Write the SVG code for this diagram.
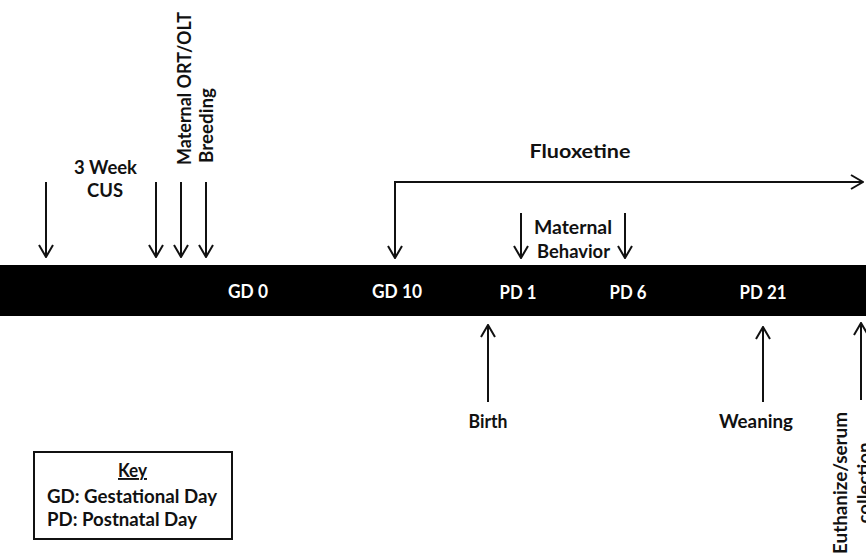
<svg xmlns="http://www.w3.org/2000/svg" width="866" height="556" viewBox="0 0 866 556">
<defs>
<style>
text{font-family:Lato,"Open Sans","Liberation Sans",sans-serif;font-weight:bold;font-size:19px;fill:#111}
.w{fill:#fff}
.m{text-anchor:middle}
.c{fill:none;stroke:#111;stroke-width:2}
</style>
<marker id="ah" markerUnits="userSpaceOnUse" viewBox="0 0 14 16" markerWidth="14" markerHeight="16" refX="13" refY="8" orient="auto-start-reverse">
<path d="M1,1 L13,8 L1,15" fill="none" stroke="#111" stroke-width="2"/>
</marker>
</defs>
<rect width="866" height="556" fill="#fff"/>
<g id="timeline">
<rect x="0" y="265" width="866" height="51" fill="#000"/>
<text class="w m" x="248" y="298" textLength="40" lengthAdjust="spacingAndGlyphs">GD 0</text>
<text class="w m" x="397" y="298" textLength="50" lengthAdjust="spacingAndGlyphs">GD 10</text>
<text class="w m" x="518" y="299" textLength="37" lengthAdjust="spacingAndGlyphs">PD 1</text>
<text class="w m" x="628" y="299" textLength="37" lengthAdjust="spacingAndGlyphs">PD 6</text>
<text class="w m" x="763" y="299" textLength="47" lengthAdjust="spacingAndGlyphs">PD 21</text>
</g>
<g id="connectors">
<path class="c" d="M46,182 V257" marker-end="url(#ah)"/>
<path class="c" d="M156,182 V257" marker-end="url(#ah)"/>
<path class="c" d="M181,182 V257" marker-end="url(#ah)"/>
<path class="c" d="M206,182 V257" marker-end="url(#ah)"/>
<path class="c" d="M395,258 V182 H863" marker-start="url(#ah)" marker-end="url(#ah)"/>
<path class="c" d="M521,213 V258" marker-end="url(#ah)"/>
<path class="c" d="M625,213 V258" marker-end="url(#ah)"/>
<path class="c" d="M488,402 V325" marker-end="url(#ah)"/>
<path class="c" d="M763,402 V327" marker-end="url(#ah)"/>
<path class="c" d="M861,400 V323" marker-end="url(#ah)"/>
</g>
<g id="cus">
<text class="m" x="105.5" y="174" textLength="63" lengthAdjust="spacingAndGlyphs">3 Week</text>
<text class="m" x="105" y="197" textLength="36" lengthAdjust="spacingAndGlyphs">CUS</text>
</g>
<g id="ort">
<text transform="translate(190.5,165) rotate(-90)" textLength="153" lengthAdjust="spacingAndGlyphs">Maternal ORT/OLT</text>
</g>
<g id="breeding">
<text transform="translate(213,163) rotate(-90)" textLength="75" lengthAdjust="spacingAndGlyphs">Breeding</text>
</g>
<g id="fluoxetine">
<text class="m" x="580" y="158" font-size="22" textLength="101" lengthAdjust="spacingAndGlyphs">Fluoxetine</text>
</g>
<g id="maternal-behavior">
<text class="m" x="573" y="234" textLength="78" lengthAdjust="spacingAndGlyphs">Maternal</text>
<text class="m" x="573.5" y="258" textLength="73" lengthAdjust="spacingAndGlyphs">Behavior</text>
</g>
<g id="birth">
<text class="m" x="488" y="428" textLength="39" lengthAdjust="spacingAndGlyphs">Birth</text>
</g>
<g id="weaning">
<text class="m" x="756" y="428" textLength="74" lengthAdjust="spacingAndGlyphs">Weaning</text>
</g>
<g id="euthanize">
<text transform="translate(847,554) rotate(-90)" textLength="142" lengthAdjust="spacingAndGlyphs">Euthanize/serum</text>
<text class="m" transform="translate(871,483) rotate(-90)" textLength="81" lengthAdjust="spacingAndGlyphs">collection</text>
</g>
<g id="key">
<rect x="34" y="452" width="198" height="87" fill="none" stroke="#111" stroke-width="2"/>
<text class="m" x="132.5" y="477" text-decoration="underline" textLength="29" lengthAdjust="spacingAndGlyphs">Key</text>
<text x="47" y="503" textLength="170" lengthAdjust="spacingAndGlyphs">GD: Gestational Day</text>
<text x="47" y="526" textLength="150" lengthAdjust="spacingAndGlyphs">PD: Postnatal Day</text>
</g>
</svg>
